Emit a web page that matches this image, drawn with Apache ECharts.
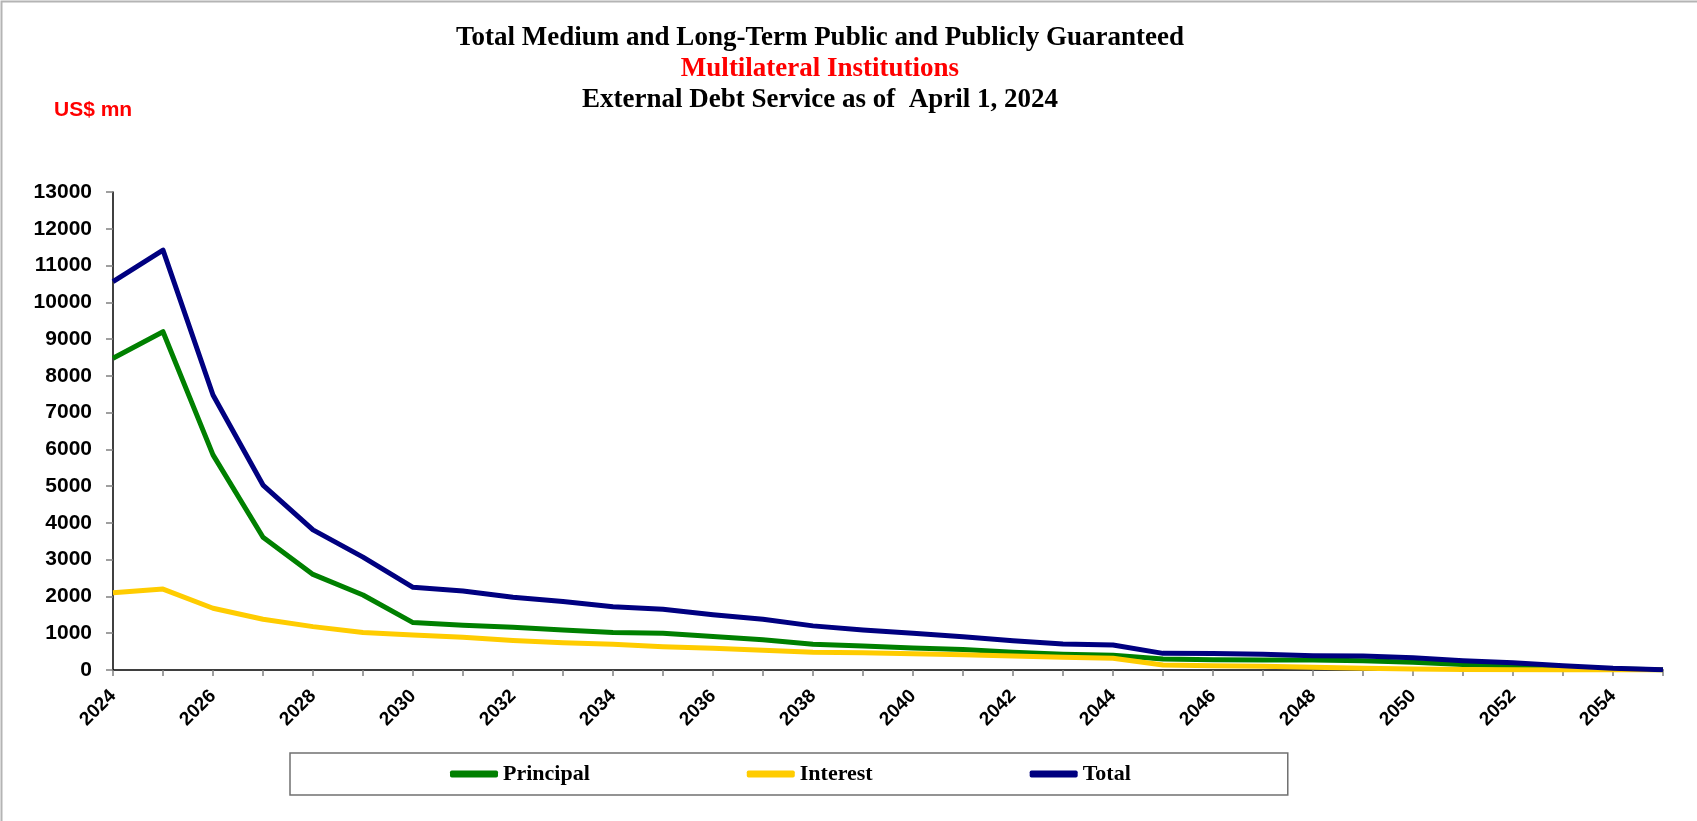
<!DOCTYPE html>
<html>
<head>
<meta charset="utf-8">
<script src="https://cdn.jsdelivr.net/npm/echarts@6/dist/echarts.min.js"></script>
<style>
html,body{margin:0;padding:0;background:#fff;}
#chart{width:1697px;height:821px;}
</style>
</head>
<body>
<div id="chart"></div>
<script>
var years = ['2024','2025','2026','2027','2028','2029','2030','2031','2032','2033','2034','2035','2036','2037','2038','2039','2040','2041','2042','2043','2044','2045','2046','2047','2048','2049','2050','2051','2052','2053','2054','2055'];
var principal = [8480, 9200, 5850, 3610, 2600, 2040, 1290, 1220, 1160, 1090, 1020, 1000, 910, 820, 700, 650, 600, 560, 480, 430, 400, 300, 280, 275, 270, 250, 210, 150, 110, 70, 30, 10];
var interest = [2100, 2200, 1680, 1380, 1180, 1020, 950, 890, 800, 740, 700, 630, 590, 540, 480, 470, 440, 415, 380, 345, 317, 136, 118, 100, 73, 45, 27, 15, 8, 0, 0, 0];
var total = [10560, 11420, 7480, 5030, 3810, 3070, 2250, 2150, 1980, 1860, 1720, 1650, 1500, 1380, 1200, 1090, 1000, 907, 798, 707, 680, 453, 450, 426, 390, 380, 335, 254, 200, 118, 45, 10];
var seriesNames = ['Principal', 'Interest', 'Total'];
var titleLines = ['Total Medium and Long-Term Public and Publicly Guaranteed', 'Multilateral Institutions', 'External Debt Service as of  April 1, 2024'];
var unitLabel = 'US$ mn';

var chart = echarts.init(document.getElementById('chart'), null, {renderer: 'canvas'});
var serif = '"Liberation Serif", "Times New Roman", serif';
var sans = '"Liberation Sans", Arial, sans-serif';
var colors = ['#008000', '#FFCC00', '#000080'];
var data = [principal, interest, total];

var option = {
  backgroundColor: '#ffffff',
  animation: false,
  graphic: [{
    type: 'rect', shape: {x: 1.5, y: 1.5, width: 1800, height: 1000},
    style: {fill: 'none', stroke: '#b4b4b4', lineWidth: 2}, silent: true, z: -1
  }],
  title: [
    {text: titleLines[0], left: 820, top: 25, padding: 0, textAlign: 'center',
     textStyle: {fontFamily: serif, fontWeight: 'bold', fontSize: 27, color: '#000'}},
    {text: titleLines[1], left: 820, top: 56, padding: 0, textAlign: 'center',
     textStyle: {fontFamily: serif, fontWeight: 'bold', fontSize: 27, color: '#FF0000'}},
    {text: titleLines[2], left: 820, top: 87, padding: 0, textAlign: 'center',
     textStyle: {fontFamily: serif, fontWeight: 'bold', fontSize: 27, color: '#000'}},
    {text: unitLabel, left: 54, top: 100, padding: 0,
     textStyle: {fontFamily: sans, fontWeight: 'bold', fontSize: 21, color: '#FF0000'}}
  ],
  legend: {
    data: seriesNames,
    left: 290, top: 753,
    padding: [10, 157, 10, 160],
    itemGap: 157,
    itemWidth: 48, itemHeight: 7,
    icon: 'roundRect',
    borderColor: '#707070', borderWidth: 1.5,
    textStyle: {fontFamily: serif, fontWeight: 'bold', fontSize: 22, color: '#000'}
  },
  grid: {left: 113, right: 34, top: 192, bottom: 151, containLabel: false},
  xAxis: {
    type: 'category',
    data: years,
    boundaryGap: false,
    axisLine: {lineStyle: {color: '#000', width: 1.5}},
    axisTick: {show: true, interval: 0, length: 6, lineStyle: {color: '#808080', width: 1.5}},
    axisLabel: {interval: 1, rotate: 45, margin: 23, color: '#000', fontFamily: sans, fontWeight: 'bold', fontSize: 19},
    splitLine: {show: false}
  },
  yAxis: {
    type: 'value',
    min: 0, max: 13000, interval: 1000,
    axisLine: {show: true, lineStyle: {color: '#000', width: 1.5}},
    axisTick: {show: true, length: 7, lineStyle: {color: '#808080', width: 1.5}},
    axisLabel: {margin: 21, color: '#000', fontFamily: sans, fontWeight: 'bold', fontSize: 21,
      formatter: function (v) { return String(v); }},
    splitLine: {show: false}
  },
  series: seriesNames.map(function (name, i) {
    return {
      name: name, type: 'line', data: data[i],
      symbol: 'none', smooth: false,
      lineStyle: {color: colors[i], width: 5, join: 'round'},
      itemStyle: {color: colors[i]},
      emphasis: {disabled: true}
    };
  })
};
chart.setOption(option);
</script>
</body>
</html>
